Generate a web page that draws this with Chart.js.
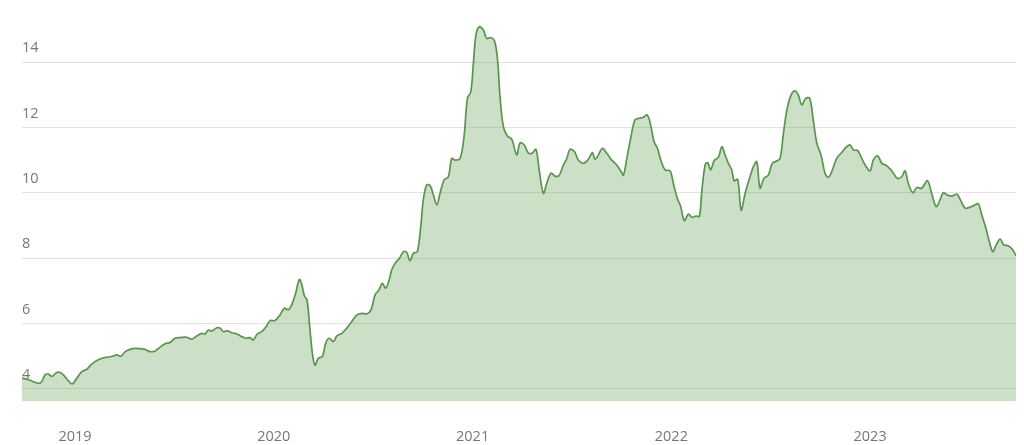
<!DOCTYPE html>
<html>
<head>
<meta charset="utf-8">
<script src="https://cdn.jsdelivr.net/npm/chart.js@4"></script>
<style>
    html, body { margin: 0; padding: 0; background: #fff; }
    #chart-div { width: 1024px; height: 445px; position: relative; }
</style>
</head>
<body>
<div id="chart-div"><canvas id="chart"></canvas></div>
<script>
// decimal year of each reading
const dates = [
    2018.733, 2018.765, 2018.790, 2018.815, 2018.832, 2018.849, 2018.866, 2018.883, 2018.908, 2018.925,
    2018.941, 2018.966, 2018.986, 2019.009, 2019.034, 2019.059, 2019.084, 2019.117, 2019.151, 2019.185,
    2019.210, 2019.231, 2019.252, 2019.277, 2019.302, 2019.327, 2019.352, 2019.377, 2019.403, 2019.428,
    2019.453, 2019.478, 2019.503, 2019.528, 2019.562, 2019.587, 2019.612, 2019.637, 2019.654, 2019.671,
    2019.688, 2019.713, 2019.730, 2019.746, 2019.766, 2019.788, 2019.814, 2019.839, 2019.860, 2019.880,
    2019.897, 2019.917, 2019.939, 2019.961, 2019.981, 2020.006, 2020.031, 2020.053, 2020.073, 2020.090,
    2020.110, 2020.128, 2020.141, 2020.154, 2020.167, 2020.182, 2020.194, 2020.207, 2020.224, 2020.244,
    2020.261, 2020.278, 2020.300, 2020.317, 2020.342, 2020.367, 2020.392, 2020.417, 2020.442, 2020.468,
    2020.489, 2020.509, 2020.529, 2020.546, 2020.563, 2020.580, 2020.593, 2020.610, 2020.632, 2020.652,
    2020.669, 2020.685, 2020.702, 2020.722, 2020.739, 2020.752, 2020.769, 2020.786, 2020.803, 2020.820,
    2020.836, 2020.856, 2020.878, 2020.895, 2020.912, 2020.937, 2020.957, 2020.974, 2020.991, 2021.004,
    2021.017, 2021.034, 2021.054, 2021.071, 2021.091, 2021.110, 2021.125, 2021.138, 2021.155, 2021.175,
    2021.197, 2021.222, 2021.239, 2021.260, 2021.281, 2021.301, 2021.319, 2021.334, 2021.356, 2021.373,
    2021.395, 2021.415, 2021.435, 2021.457, 2021.474, 2021.490, 2021.512, 2021.532, 2021.557, 2021.582,
    2021.603, 2021.616, 2021.633, 2021.653, 2021.675, 2021.700, 2021.725, 2021.747, 2021.759, 2021.776,
    2021.797, 2021.817, 2021.838, 2021.859, 2021.879, 2021.896, 2021.913, 2021.930, 2021.947, 2021.968,
    2021.994, 2022.010, 2022.030, 2022.047, 2022.065, 2022.086, 2022.103, 2022.124, 2022.141, 2022.153,
    2022.170, 2022.183, 2022.198, 2022.215, 2022.237, 2022.254, 2022.270, 2022.287, 2022.304, 2022.316,
    2022.334, 2022.351, 2022.371, 2022.393, 2022.413, 2022.430, 2022.446, 2022.466, 2022.488, 2022.508,
    2022.530, 2022.547, 2022.564, 2022.581, 2022.602, 2022.622, 2022.639, 2022.656, 2022.676, 2022.696,
    2022.714, 2022.732, 2022.753, 2022.773, 2022.790, 2022.807, 2022.832, 2022.857, 2022.882, 2022.899,
    2022.916, 2022.938, 2022.958, 2022.978, 2023.000, 2023.016, 2023.038, 2023.059, 2023.079, 2023.105,
    2023.117, 2023.137, 2023.159, 2023.176, 2023.192, 2023.215, 2023.235, 2023.260, 2023.288, 2023.310,
    2023.332, 2023.352, 2023.368, 2023.389, 2023.411, 2023.436, 2023.456, 2023.478, 2023.503, 2023.528,
    2023.545, 2023.562, 2023.583, 2023.600, 2023.617, 2023.634, 2023.654, 2023.674, 2023.695, 2023.718,
    2023.734
];

const values = [
    4.33, 4.28, 4.22, 4.17, 4.22, 4.43, 4.45, 4.38, 4.50, 4.50,
    4.43, 4.25, 4.15, 4.33, 4.53, 4.60, 4.76, 4.89, 4.96, 4.99,
    5.04, 5.00, 5.14, 5.21, 5.24, 5.23, 5.21, 5.14, 5.16, 5.28,
    5.38, 5.42, 5.55, 5.57, 5.58, 5.52, 5.62, 5.70, 5.68, 5.80,
    5.77, 5.87, 5.86, 5.75, 5.78, 5.72, 5.68, 5.60, 5.55, 5.57,
    5.50, 5.68, 5.75, 5.90, 6.09, 6.09, 6.26, 6.47, 6.42, 6.57,
    6.93, 7.35, 7.18, 6.84, 6.72, 5.80, 5.09, 4.73, 4.94, 4.99,
    5.40, 5.55, 5.45, 5.62, 5.70, 5.86, 6.06, 6.26, 6.31, 6.30,
    6.42, 6.87, 7.03, 7.23, 7.08, 7.33, 7.64, 7.84, 8.00, 8.20,
    8.17, 7.92, 8.15, 8.20, 8.96, 9.78, 10.24, 10.22, 9.93, 9.63,
    9.98, 10.39, 10.49, 11.05, 11.00, 11.05, 11.72, 12.89, 13.09, 13.96,
    14.83, 15.08, 14.98, 14.72, 14.75, 14.65, 14.11, 12.94, 12.02, 11.74,
    11.64, 11.16, 11.53, 11.46, 11.21, 11.22, 11.33, 10.75, 9.98, 10.29,
    10.60, 10.51, 10.53, 10.85, 11.05, 11.33, 11.26, 11.00, 10.90, 11.02,
    11.23, 11.02, 11.16, 11.36, 11.21, 11.00, 10.85, 10.65, 10.54, 11.05,
    11.72, 12.23, 12.28, 12.31, 12.38, 12.07, 11.56, 11.36, 11.00, 10.70,
    10.67, 10.29, 9.83, 9.58, 9.15, 9.35, 9.25, 9.29, 9.28, 10.03,
    10.85, 10.92, 10.70, 10.98, 11.09, 11.41, 11.16, 10.90, 10.70, 10.37,
    10.41, 9.47, 9.98, 10.44, 10.80, 10.95, 10.14, 10.44, 10.54, 10.90,
    10.97, 11.05, 11.82, 12.53, 12.99, 13.12, 12.99, 12.69, 12.89, 12.89,
    12.23, 11.51, 11.16, 10.60, 10.47, 10.65, 11.05, 11.23, 11.41, 11.46,
    11.31, 11.29, 11.05, 10.82, 10.67, 11.00, 11.13, 10.90, 10.85, 10.70,
    10.60, 10.44, 10.49, 10.67, 10.29, 10.00, 10.16, 10.14, 10.37, 9.98,
    9.58, 9.78, 10.00, 9.93, 9.90, 9.96, 9.76, 9.53, 9.56, 9.63,
    9.66, 9.32, 8.91, 8.50, 8.20, 8.40, 8.58, 8.40, 8.38, 8.25,
    8.07
];

const xTicks = [2019, 2020, 2021, 2022, 2023];
const yTicks = [4, 6, 8, 10, 12, 14];

const points = dates.map((d, i) => ({ x: d, y: values[i] }));

const tickFont = { family: "'Open Sans', 'DejaVu Sans', sans-serif", size: 14.5 };

const chart_config = {
    type: 'line',
    data: {
        datasets: [{
            data: points,
            borderColor: '#58964c',
            borderWidth: 1.7,
            backgroundColor: 'rgba(86,148,70,0.3)',
            fill: 'start',
            pointRadius: 0,
            tension: 0.35
        }]
    },
    options: {
        responsive: true,
        maintainAspectRatio: false,
        animation: false,
        layout: { padding: { left: 22, right: 8, top: 13, bottom: 0 } },
        plugins: {
            legend: { display: false },
            tooltip: { enabled: false }
        },
        scales: {
            x: {
                type: 'linear',
                min: dates[0],
                max: dates[dates.length - 1],
                afterBuildTicks: axis => { axis.ticks = xTicks.map(v => ({ value: v })); },
                afterFit: axis => { axis.height = 44; },
                grid: { display: false, drawTicks: false },
                border: { display: false },
                ticks: {
                    font: tickFont,
                    color: '#777',
                    padding: 27,
                    maxRotation: 0,
                    callback: v => String(v)
                }
            },
            y: {
                min: 3.63,
                max: 15.5,
                afterBuildTicks: axis => { axis.ticks = yTicks.map(v => ({ value: v })); },
                grid: { color: '#e2e2e2', lineWidth: 1, drawTicks: false },
                border: { display: false },
                ticks: {
                    mirror: true,
                    padding: 0,
                    labelOffset: -14,
                    font: tickFont,
                    color: '#777'
                }
            }
        }
    }
};

const ctx = document.getElementById('chart');
let chart = new Chart(ctx, chart_config);
</script>
</body>
</html>
